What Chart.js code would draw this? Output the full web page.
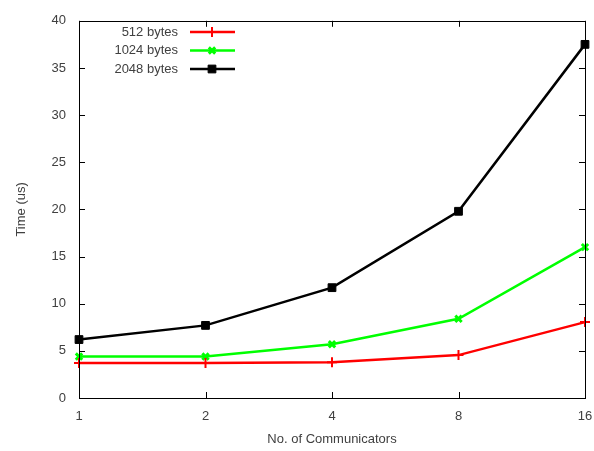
<!DOCTYPE html>
<html>
<head>
<meta charset="utf-8">
<script src="https://cdn.jsdelivr.net/npm/chart.js@4/dist/chart.umd.min.js"></script>
<style>
  html, body { margin: 0; padding: 0; background: #fff; }
  #wrap { width: 594px; height: 451px; position: relative; }
</style>
</head>
<body>
<div id="wrap"><canvas id="chart"></canvas></div>
<script>
// --- DATA ---
const communicators = ['1', '2', '4', '8', '16'];
const bytes512 = [3.7, 3.7, 3.8, 4.55, 8.05];
const bytes1024 = [4.4, 4.4, 5.7, 8.4, 16.0];
const bytes2048 = [6.2, 7.7, 11.7, 19.8, 37.5];
const yTicks = [0, 5, 10, 15, 20, 25, 30, 35, 40];

const FONT = 'Liberation Sans, Arial, sans-serif';
const TEXT = '#404040';

// frame + inward ticks on all four sides, like gnuplot
const framePlugin = {
    id: 'frame',
    afterDatasetsDraw(chart) {
        const { ctx, chartArea: a, scales } = chart;
        ctx.save();
        ctx.strokeStyle = '#000';
        ctx.lineWidth = 1;
        ctx.beginPath();
        scales.y.ticks.forEach(t => {
            const py = Math.round(scales.y.getPixelForValue(t.value)) + 0.5;
            ctx.moveTo(a.left, py); ctx.lineTo(a.left + 6, py);
            ctx.moveTo(a.right, py); ctx.lineTo(a.right - 6, py);
        });
        communicators.forEach((c, i) => {
            const px = Math.round(scales.x.getPixelForValue(i)) + 0.5;
            ctx.moveTo(px, a.bottom); ctx.lineTo(px, a.bottom - 6);
            ctx.moveTo(px, a.top); ctx.lineTo(px, a.top + 6);
        });
        ctx.stroke();
        ctx.strokeRect(Math.round(a.left) + 0.5, Math.round(a.top) + 0.5,
                       Math.round(a.right - a.left), Math.round(a.bottom - a.top));
        ctx.restore();
    },
    // legend: label right-aligned, sample line to its right
    afterDraw(chart) {
        const { ctx } = chart;
        ctx.save();
        ctx.font = '13px ' + FONT;
        ctx.textAlign = 'right';
        ctx.textBaseline = 'middle';
        chart.data.datasets.forEach((ds, i) => {
            const y = 32 + i * 18.5;
            ctx.fillStyle = TEXT;
            ctx.fillText(ds.label, 178, y);
            ctx.strokeStyle = ds.borderColor;
            ctx.fillStyle = ds.borderColor;
            ctx.lineWidth = 2.5;
            ctx.beginPath();
            ctx.moveTo(190, y); ctx.lineTo(235, y);
            ctx.stroke();
            ctx.lineWidth = ds.pointBorderWidth;
            Chart.helpers.drawPoint(ctx, {
                pointStyle: ds.pointStyle,
                radius: ds.pointRadius,
                borderWidth: ds.pointBorderWidth,
                rotation: 0
            }, 212, y);
        });
        ctx.restore();
    }
};

function series(label, data, color, style, radius, bw) {
    return {
        label, data,
        borderColor: color,
        backgroundColor: color,
        borderWidth: 2.5,
        pointStyle: style,
        pointRadius: radius,
        pointBorderWidth: bw,
        pointBorderColor: color,
        pointBackgroundColor: color,
        tension: 0
    };
}

new Chart(document.getElementById('chart'), {
    type: 'line',
    data: {
        labels: communicators,
        datasets: [
            series('512 bytes', bytes512, '#ff0000', 'cross', 5, 2),
            series('1024 bytes', bytes1024, '#00ff00', 'crossRot', 4.5, 3),
            series('2048 bytes', bytes2048, '#000000', 'rect', 5.5, 1)
        ]
    },
    options: {
        responsive: true,
        maintainAspectRatio: false,
        animation: false,
        layout: { padding: { top: 20, right: 9, left: 0, bottom: 0 } },
        plugins: { legend: { display: false }, tooltip: { enabled: false } },
        scales: {
            x: {
                offset: false,
                grid: { display: false, drawTicks: false },
                border: { display: false },
                ticks: { color: TEXT, font: { family: FONT, size: 13 }, padding: 11, maxRotation: 0 },
                title: { display: true, text: 'No. of Communicators', color: TEXT,
                         font: { family: FONT, size: 13 }, padding: { top: 8 } },
                afterFit: s => { s.height = 53; s.paddingLeft = 0; s.paddingRight = 0; }
            },
            y: {
                min: 0, max: 40,
                afterBuildTicks: s => { s.ticks = yTicks.map(v => ({ value: v })); },
                grid: { display: false, drawTicks: false },
                border: { display: false },
                ticks: { color: TEXT, font: { family: FONT, size: 13 }, padding: 13 },
                title: { display: true, text: 'Time (us)', color: TEXT,
                         font: { family: FONT, size: 13 }, padding: { top: 14, bottom: 0 } },
                afterFit: s => { s.width = 79; }
            }
        }
    },
    plugins: [framePlugin]
});
</script>
</body>
</html>
